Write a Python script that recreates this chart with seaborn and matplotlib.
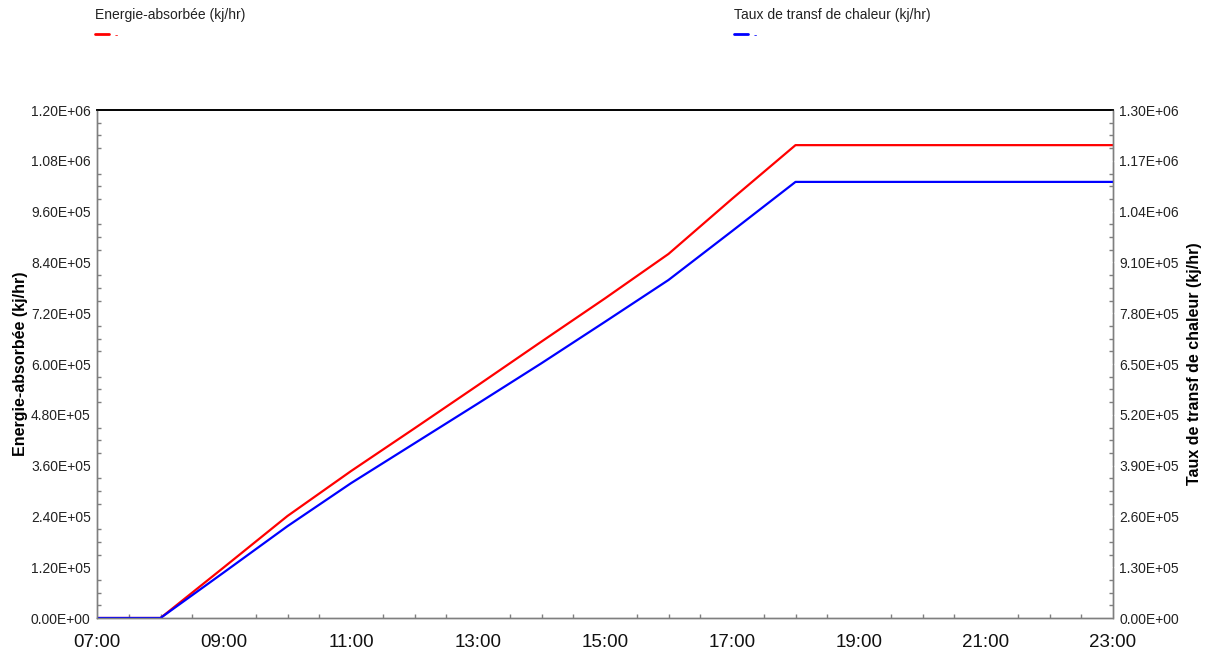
import matplotlib
matplotlib.use("Agg")
import matplotlib.pyplot as plt
import seaborn as sns
import pandas as pd
from matplotlib.lines import Line2D
from matplotlib.ticker import FuncFormatter, MultipleLocator, FixedLocator

# hours of the day (07:00 .. 23:00)
hours = [7, 8, 9, 10, 11, 12, 13, 14, 15, 16, 17, 18, 19, 20, 21, 22, 23]
hour_ticks = [7, 9, 11, 13, 15, 17, 19, 21, 23]

# Energie-absorbée (kj/hr), left axis
energie = [0, 0, 1.20e5, 2.41e5, 3.47e5, 4.48e5, 5.50e5, 6.53e5, 7.55e5,
           8.60e5, 9.90e5, 1.117e6, 1.117e6, 1.117e6, 1.117e6, 1.117e6, 1.117e6]

# Taux de transf de chaleur (kj/hr), right axis
taux = [0, 0, 1.17e5, 2.35e5, 3.45e5, 4.47e5, 5.49e5, 6.52e5, 7.58e5,
        8.65e5, 9.90e5, 1.116e6, 1.116e6, 1.116e6, 1.116e6, 1.116e6, 1.116e6]

label_left = "Energie-absorbée (kj/hr)"
label_right = "Taux de transf de chaleur (kj/hr)"

df = pd.DataFrame({"heure": hours, "energie": energie, "taux": taux})

sns.set_style("white")
plt.rcParams["font.family"] = ["Liberation Sans", "DejaVu Sans"]

fig = plt.figure(figsize=(12.1, 6.55), dpi=100)
ax = fig.add_axes([97 / 1210, 1 - 618 / 655, (1113 - 97) / 1210, (618 - 110) / 655])
ax2 = ax.twinx()

sns.lineplot(data=df, x="heure", y="energie", ax=ax, color="#ff0000", linewidth=1.6)
sns.lineplot(data=df, x="heure", y="taux", ax=ax2, color="#0000ff", linewidth=1.6)

ax.set_xlim(7, 23)
ax.set_ylim(0, 1.2e6)
ax2.set_ylim(0, 1.3e6)

ax.xaxis.set_major_locator(FixedLocator(hour_ticks))
ax.xaxis.set_minor_locator(MultipleLocator(0.5))
ax.xaxis.set_major_formatter(FuncFormatter(lambda v, p: f"{int(round(v)):02d}:00"))
ax.yaxis.set_major_locator(MultipleLocator(1.2e5))
ax.yaxis.set_minor_locator(MultipleLocator(3e4))
ax2.yaxis.set_major_locator(MultipleLocator(1.3e5))
ax2.yaxis.set_minor_locator(MultipleLocator(3.25e4))
sci = FuncFormatter(lambda v, p: f"{v:.2E}")
ax.yaxis.set_major_formatter(sci)
ax2.yaxis.set_major_formatter(sci)

ax.set_xlabel("")
ax.set_ylabel(label_left, fontsize=11.5, fontweight="bold", color="#000000")
ax2.set_ylabel(label_right, fontsize=11.5, fontweight="bold", color="#000000")
ax.yaxis.set_label_coords(-0.068, 0.5)
ax2.yaxis.set_label_coords(1.0724, 0.5)

for a in (ax, ax2):
    for side in ("left", "right", "bottom"):
        a.spines[side].set_color("#7f7f7f")
        a.spines[side].set_linewidth(1.0)
    a.spines["top"].set_color("#000000")
    a.spines["top"].set_linewidth(1.2)
    a.tick_params(which="major", direction="inout", length=3, width=1, color="white")
    a.tick_params(which="minor", direction="in", length=3, width=1, color="#7f7f7f")

ax.tick_params(axis="x", which="both", bottom=True, labelsize=13.5, pad=10, labelcolor="#111111")
ax.tick_params(axis="y", which="both", left=True, labelsize=10, pad=3, labelcolor="#222222")
ax2.tick_params(axis="y", which="both", right=True, labelsize=10, pad=3, labelcolor="#222222")

# legend drawn at the top, like the original report
fig.text(95 / 1210, 1 - 15 / 655, label_left, fontsize=10, color="#222222", va="center")
fig.text(734 / 1210, 1 - 15 / 655, label_right, fontsize=10, color="#222222", va="center")
for x0, col in ((95, "#ff0000"), (734, "#0000ff")):
    fig.add_artist(Line2D([x0 / 1210, (x0 + 14) / 1210], [1 - 34 / 655, 1 - 34 / 655],
                          color=col, linewidth=2, transform=fig.transFigure))
    fig.text((x0 + 20) / 1210, 1 - 35 / 655, "-", fontsize=7, color=col, va="center")

fig.savefig("out.png", dpi=100)
plt.close(fig)
